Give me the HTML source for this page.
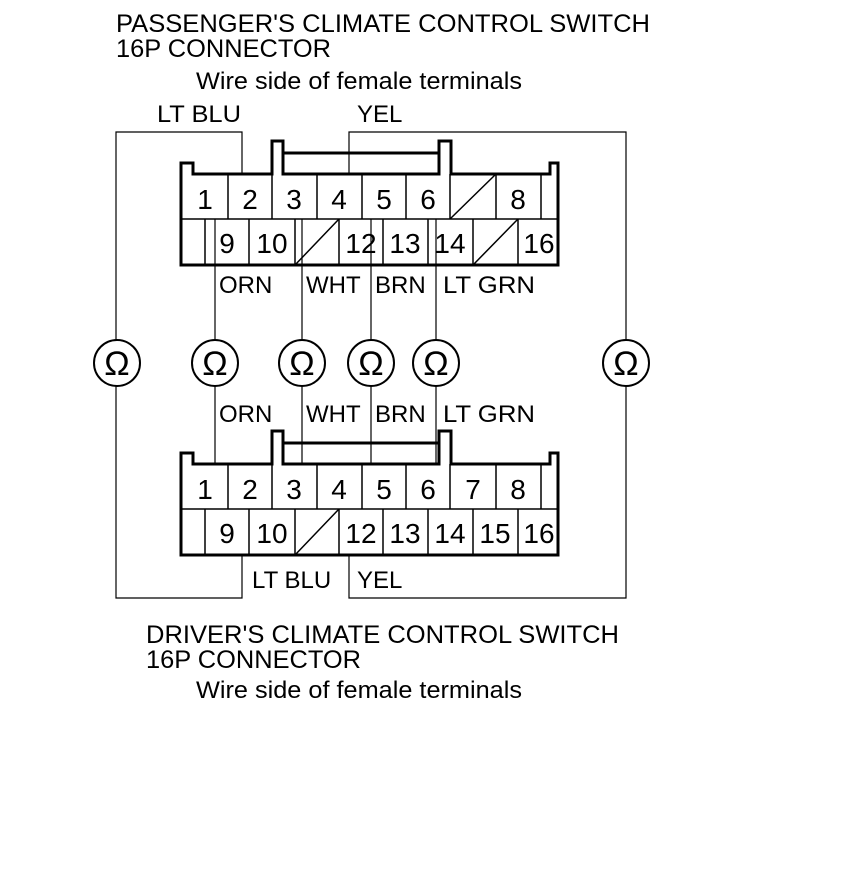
<!DOCTYPE html>
<html><head><meta charset="utf-8"><style>
html,body{margin:0;padding:0;background:#fff;}
svg{display:block;}
text{font-family:"Liberation Sans",Arial,sans-serif;fill:#000;}
</style></head><body>
<svg width="860" height="891" viewBox="0 0 860 891" xmlns="http://www.w3.org/2000/svg">
<defs>
<g id="shell" fill="none" stroke="#000">
  <path d="M181,265 V163 H193 V174 H272 V141 H283 V174 H439 V141 H451 V174 H550 V163 H558 V265 Z" stroke-width="3"/>
  <line x1="283" y1="153" x2="439" y2="153" stroke-width="3"/>
  <line x1="181" y1="219" x2="558" y2="219" stroke-width="1.5"/>
  <g stroke-width="1.5">
    <line x1="228" y1="174" x2="228" y2="219"/><line x1="272" y1="174" x2="272" y2="219"/>
    <line x1="317" y1="174" x2="317" y2="219"/><line x1="362" y1="174" x2="362" y2="219"/>
    <line x1="406" y1="174" x2="406" y2="219"/><line x1="450" y1="174" x2="450" y2="219"/>
    <line x1="496" y1="174" x2="496" y2="219"/><line x1="541" y1="174" x2="541" y2="219"/>
    <line x1="205" y1="219" x2="205" y2="265"/><line x1="249" y1="219" x2="249" y2="265"/>
    <line x1="295" y1="219" x2="295" y2="265"/><line x1="339" y1="219" x2="339" y2="265"/>
    <line x1="383" y1="219" x2="383" y2="265"/><line x1="428" y1="219" x2="428" y2="265"/>
    <line x1="473" y1="219" x2="473" y2="265"/><line x1="518" y1="219" x2="518" y2="265"/>
    <line x1="295" y1="265" x2="339" y2="219"/>
  </g>
</g>
<g id="om">
  <circle r="23" fill="#fff" stroke="#000" stroke-width="2"/>
  <text y="12" font-size="34" text-anchor="middle">Ω</text>
</g>
</defs>

<g font-size="24">
<text x="116" y="32" font-size="25" textLength="534" lengthAdjust="spacingAndGlyphs">PASSENGER'S CLIMATE CONTROL SWITCH</text>
<text x="116" y="57" font-size="25" textLength="215" lengthAdjust="spacingAndGlyphs">16P CONNECTOR</text>
<text x="196" y="89" textLength="326" lengthAdjust="spacingAndGlyphs">Wire side of female terminals</text>
<text x="157" y="122" textLength="84" lengthAdjust="spacingAndGlyphs">LT BLU</text>
<text x="357" y="122">YEL</text>
<text x="146" y="643" font-size="25" textLength="473" lengthAdjust="spacingAndGlyphs">DRIVER'S CLIMATE CONTROL SWITCH</text>
<text x="146" y="668" font-size="25" textLength="215" lengthAdjust="spacingAndGlyphs">16P CONNECTOR</text>
<text x="196" y="698" textLength="326" lengthAdjust="spacingAndGlyphs">Wire side of female terminals</text>
</g>

<g fill="none" stroke="#000" stroke-width="1.2">
  <path d="M242,174 V132 H116 V598 H242 V555"/>
  <path d="M349,174 V132 H626 V598 H349 V555"/>
  <line x1="215" y1="219" x2="215" y2="464"/>
  <line x1="302" y1="219" x2="302" y2="464"/>
  <line x1="371" y1="219" x2="371" y2="464"/>
  <line x1="436" y1="219" x2="436" y2="464"/>
</g>

<use href="#shell"/>
<line x1="450" y1="219" x2="496" y2="174" stroke="#000" stroke-width="1.5"/>
<line x1="473" y1="265" x2="518" y2="219" stroke="#000" stroke-width="1.5"/>
<g transform="translate(0,290)"><use href="#shell"/></g>

<g font-size="28" text-anchor="middle">
  <text x="205" y="209">1</text><text x="250" y="209">2</text><text x="294" y="209">3</text>
  <text x="339" y="209">4</text><text x="384" y="209">5</text><text x="428" y="209">6</text>
  <text x="518" y="209">8</text>
  <text x="227" y="253">9</text><text x="272" y="253">10</text><text x="361" y="253">12</text>
  <text x="405" y="253">13</text><text x="450" y="253">14</text><text x="539" y="253">16</text>
  <text x="205" y="499">1</text><text x="250" y="499">2</text><text x="294" y="499">3</text>
  <text x="339" y="499">4</text><text x="384" y="499">5</text><text x="428" y="499">6</text>
  <text x="473" y="499">7</text><text x="518" y="499">8</text>
  <text x="227" y="543">9</text><text x="272" y="543">10</text><text x="361" y="543">12</text>
  <text x="405" y="543">13</text><text x="450" y="543">14</text><text x="495" y="543">15</text><text x="539" y="543">16</text>
</g>

<g font-size="24">
  <text x="219" y="293">ORN</text><text x="306" y="293">WHT</text>
  <text x="375" y="293">BRN</text><text x="443" y="293" textLength="92" lengthAdjust="spacingAndGlyphs">LT GRN</text>
  <text x="219" y="422">ORN</text><text x="306" y="422">WHT</text>
  <text x="375" y="422">BRN</text><text x="443" y="422" textLength="92" lengthAdjust="spacingAndGlyphs">LT GRN</text>
  <text x="252" y="588">LT BLU</text><text x="357" y="588">YEL</text>
</g>

<use href="#om" x="117" y="363"/>
<use href="#om" x="215" y="363"/>
<use href="#om" x="302" y="363"/>
<use href="#om" x="371" y="363"/>
<use href="#om" x="436" y="363"/>
<use href="#om" x="626" y="363"/>
</svg>
</body></html>
